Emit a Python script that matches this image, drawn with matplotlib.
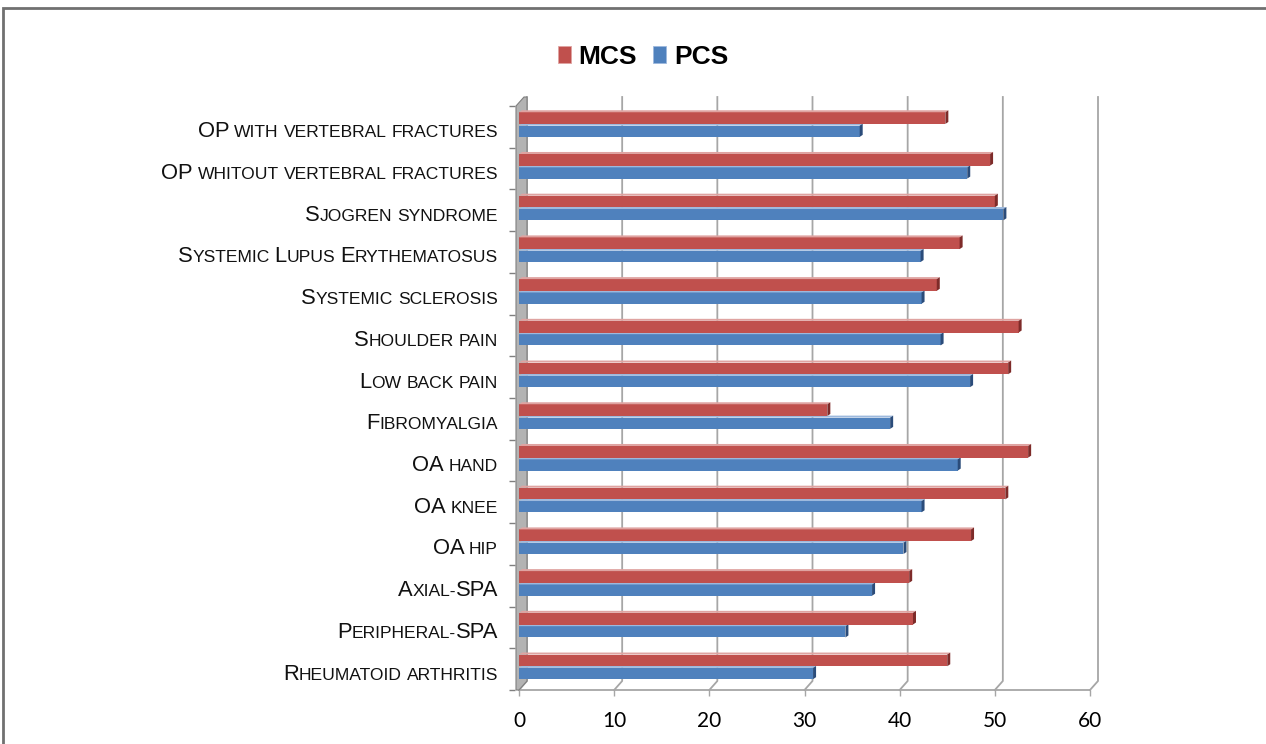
import matplotlib
matplotlib.use("Agg")
import matplotlib.pyplot as plt
from matplotlib.patches import Polygon, Rectangle
from matplotlib import transforms as mtrans

# ---- data (bottom to top) ----
categories = [
    "Rheumatoid arthritis", "Peripheral-SPA", "Axial-SPA", "OA hip", "OA knee",
    "OA hand", "Fibromyalgia", "Low back pain", "Shoulder pain",
    "Systemic sclerosis", "Systemic Lupus Erythematosus", "Sjogren syndrome",
    "OP whitout vertebral fractures", "OP with vertebral fractures",
]
mcs = [45.0, 41.4, 41.0, 47.5, 51.1, 53.5, 32.4, 51.4, 52.5, 43.9, 46.3, 50.0, 49.5, 44.8]
pcs = [30.9, 34.3, 37.1, 40.4, 42.3, 46.1, 39.0, 47.4, 44.3, 42.3, 42.2, 50.9, 47.1, 35.8]
xticks = [0, 10, 20, 30, 40, 50, 60]
series_names = ["MCS", "PCS"]

W, H = 1266, 744
fig = plt.figure(figsize=(W / 100, H / 100), dpi=100)
fig.patch.set_facecolor("white")

L, R, T, B = 519, 1090, 106, 690
ax = fig.add_axes([L / W, 1 - B / H, (R - L) / W, (B - T) / H])
ax.set_xlim(0, 60)
ax.set_ylim(-0.5, len(categories) - 0.5)
for s in ax.spines.values():
    s.set_visible(False)
ax.patch.set_alpha(0)

pxx = 60 / (R - L)                      # data units per px (x)
pxy = len(categories) / (B - T)         # data units per px (y)
bdx, bdy = 8 * pxx, 9 * pxy             # back-plane offset
ddx, ddy = 3 * pxx, 2 * pxy             # bar depth

grid_c = "#A6A6A6"
top_y = len(categories) - 0.5
for xv in xticks:
    ax.plot([xv, xv + bdx, xv + bdx], [-0.5, -0.5 + bdy, top_y + bdy],
            color=grid_c, lw=1.3, clip_on=False, zorder=1)
ax.plot([0, 60], [-0.5, -0.5], color=grid_c, lw=1.3, clip_on=False, zorder=1)

wall = Polygon([(-3 * pxx, -0.5), (-3 * pxx, top_y), (5 * pxx, top_y + bdy),
                (bdx, top_y + bdy), (bdx, -0.5 + bdy), (0, -0.5)],
               closed=True, facecolor="#B3B3B3", edgecolor="#7F7F7F", lw=0.8,
               clip_on=False, zorder=2)
ax.add_patch(wall)

red, red_l, red_d = "#C0504D", "#DFA3A1", "#7E2B29"
blue, blue_l, blue_d = "#4F81BD", "#9DB9DD", "#2B4C7A"
ys = list(range(len(categories)))

def draw_bars(vals, y0, h, c, cl, cd, z):
    ax.barh([y + y0 + h / 2 for y in ys], vals, height=h, left=0,
            color=c, edgecolor="none", zorder=z)
    for y, v in zip(ys, vals):
        yb, yt = y + y0, y + y0 + h
        ax.add_patch(Polygon([(0, yt), (v, yt), (v + ddx, yt + ddy), (ddx, yt + ddy)],
                             closed=True, facecolor=cl, edgecolor="none", zorder=z))
        ax.add_patch(Polygon([(v, yb), (v, yt), (v + ddx, yt + ddy), (v + ddx, yb + ddy)],
                             closed=True, facecolor=cd, edgecolor="none", zorder=z))

draw_bars(pcs, -0.24, 0.27, blue, blue_l, blue_d, 3)
draw_bars(mcs, 0.07, 0.28, red, red_l, red_d, 4)

ax.set_xticks(xticks)
ax.set_xticklabels([str(v) for v in xticks], fontfamily="Lato", fontsize=15)
ax.tick_params(axis="x", length=4, width=1.0, color=grid_c, pad=11)
ax.set_yticks([y - 0.5 for y in range(len(categories) + 1)])
ax.set_yticklabels([])
ax.tick_params(axis="y", length=4, width=1.0, color="#7F7F7F", pad=0)
ax.spines["left"].set_position(("outward", 3))

# small-caps category labels
renderer = fig.canvas.get_renderer()
BIG, SMALL = 15.8, 12.6
FAM = "Liberation Sans"

def measure(s, size):
    t = fig.text(0, 0, s, fontsize=size, fontfamily=FAM)
    w = t.get_window_extent(renderer).width
    t.remove()
    return w

def advance(s, size):
    return measure("X" + s + "X", size) - measure("XX", size)

space_w = advance(" ", SMALL)
base = ax.get_yaxis_transform()

def runs_of(label):
    runs = []
    for ch in label:
        if ch == " ":
            kind = "space"
        elif ch.islower() or ch == "-":
            kind = "small"
        else:
            kind = "big"
        if runs and runs[-1][0] == kind:
            runs[-1][1] += ch
        else:
            runs.append([kind, ch])
    return runs

for y, lab in zip(ys, categories):
    xoff = 21.0
    for kind, txt in reversed(runs_of(lab)):
        if kind == "space":
            xoff += space_w * len(txt)
            continue
        size = BIG if kind == "big" else SMALL
        tr = mtrans.offset_copy(base, fig=fig, x=-xoff, y=0, units="dots")
        ax.text(0, y - 0.25, txt.upper(), fontsize=size, fontfamily=FAM,
                ha="right", va="baseline", transform=tr, color="#111111")
        xoff += advance(txt.upper(), size)

handles = [Rectangle((0, 0), 1, 1, facecolor=red, edgecolor=red_l, lw=0.6),
           Rectangle((0, 0), 1, 1, facecolor=blue, edgecolor=blue_l, lw=0.6)]
fig.legend(handles, series_names, loc="center", bbox_to_anchor=(643 / W, 1 - 57 / H),
           ncol=2, frameon=False, prop={"family": FAM, "weight": "bold", "size": 19},
           handlelength=0.5, handleheight=0.62, handletextpad=0.3, columnspacing=0.6)

fig.patches.append(Rectangle((3 / W, -0.05), 1.1, 1 - 8 / H + 0.05, transform=fig.transFigure,
                             fill=False, edgecolor="#707070", lw=2.0))

fig.savefig("out.png", dpi=100)
